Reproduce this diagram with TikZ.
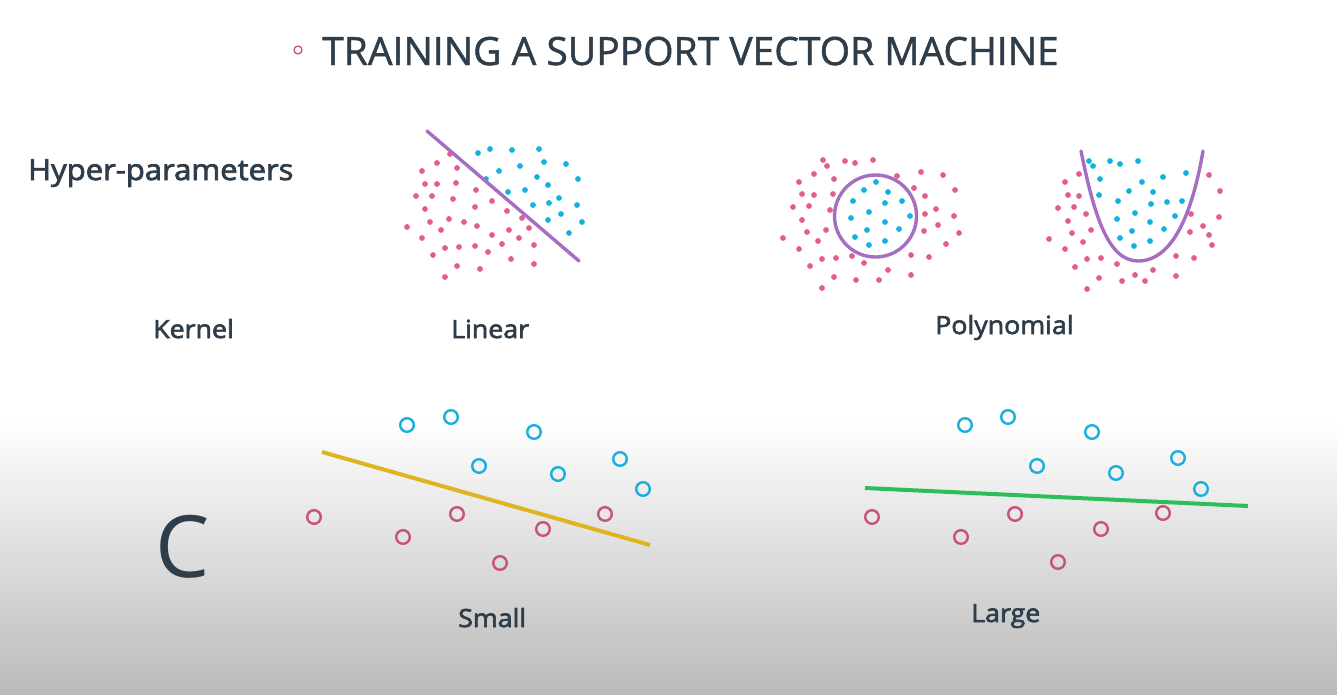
\documentclass[tikz,border=0pt]{standalone}
\usepackage{fontspec}
\setmainfont{Open Sans}
\newfontfamily\lblfont[FakeBold=2.5,FakeStretch=1.07]{Open Sans}
\newfontfamily\ttlfont[FakeBold=1.2]{Open Sans}
\definecolor{txt}{HTML}{2E3D49}
\definecolor{pinkdot}{HTML}{E35D8F}
\definecolor{bluedot}{HTML}{12B2E0}
\definecolor{purp}{HTML}{A56EC2}
\definecolor{pinkring}{HTML}{C9517F}
\definecolor{bluering}{HTML}{1AAFDC}
\definecolor{yel}{HTML}{DDB51E}
\definecolor{grn}{HTML}{2DBE5B}
\begin{document}
\begin{tikzpicture}[x=1pt,y=-1pt,
  pd/.style={fill=pinkdot},
  bd/.style={fill=bluedot},
  sep/.style={draw=purp,line width=3.4pt,line cap=round},
  pr/.style={draw=pinkring,line width=2.4pt},
  br/.style={draw=bluering,line width=2.4pt},
  lbl/.style={anchor=base west,inner sep=0pt,text=txt,font=\lblfont\fontsize{25}{29}\selectfont}]
\useasboundingbox (0,0) rectangle (1337,694);
\fill[white] (0,0) rectangle (1337,430);
\shade[top color=white,bottom color=black!27] (0,420) rectangle (1337,694);
% title
\draw[pinkring,line width=1.3pt] (298,50) circle (4);
\node[anchor=base west,inner sep=0pt,text=txt,font=\ttlfont\fontsize{39}{45}\selectfont] (title) at (322,65) {TRAINING A SUPPORT VECTOR MACHINE};
\node[anchor=base west,inner sep=0pt,text=txt,font=\lblfont\fontsize{29}{33}\selectfont] (hyper) at (28,180) {Hyper-parameters};
\node[lbl] (kernel) at (153,338) {Kernel};
\node[lbl] (linear) at (451,338) {Linear};
\node[lbl] (poly) at (935,334) {Polynomial};
\node[lbl] (small) at (458,627) {Small};
\node[lbl] (large) at (971,622) {Large};
\node[anchor=base west,inner sep=0pt,text=txt,font=\fontsize{86}{90}\selectfont] (c) at (155,577) {C};
% linear plot
\foreach \x/\y in {450/154,437/163,422/171,457/168,425/184,437/184,456/183,476/190,416/196,432/196,453/199,492/201,425/209,475/207,507/211,430/222,449/219,464/222,477/226,522/218,529/228,407/227,441/230,422/238,492/235,509/230,519/238,445/248,459/247,475/246,502/244,534/245,433/255,488/252,457/266,480/269,511/259,534/264,445/277}
  \fill[pd] (\x,\y) circle (2.9);
\foreach \x/\y in {478/153,490/149,512/150,539/149,544/162,566/164,499/171,520/166,537/177,578/179,486/179,548/185,508/192,525/190,559/198,533/205,549/203,577/205,561/214,548/220,582/222,569/233}
  \fill[bd] (\x,\y) circle (2.9);
\draw[sep] (427,131) -- (579,261);
% circle plot
\foreach \x/\y in {823/160,827/166,845/161,855/163,873/160,814/174,834/179,799/182,897/176,921/172,943/175,802/194,814/195,833/194,914/188,955/190,925/196,793/207,809/206,830/210,936/209,925/214,954/216,802/220,938/225,807/232,826/230,924/231,959/233,783/238,818/241,799/249,946/244,822/259,836/258,852/256,911/255,929/257,810/266,864/263,888/270,834/277,856/280,879/280,911/275,822/288}
  \fill[pd] (\x,\y) circle (2.9);
\foreach \x/\y in {876/182,864/190,888/192,853/201,885/203,902/201,869/212,851/218,885/222,910/216,867/230,899/229,855/237,869/245,885/241}
  \fill[bd] (\x,\y) circle (2.9);
\draw[sep] (875.5,216) circle (41);
% parabola plot
\foreach \x/\y in {1079/174,1065/182,1068/195,1079/196,1058/208,1074/207,1086/214,1068/221,1091/230,1072/233,1049/239,1083/242,1065/249,1087/259,1101/258,1075/267,1117/264,1099/278,1122/281,1135/275,1145/281,1153/270,1176/276,1087/289,1176/256,1194/258,1191/214,1190/232,1203/226,1209/235,1212/245,1219/217,1220/191,1209/175}
  \fill[pd] (\x,\y) circle (2.9);
\foreach \x/\y in {1089/161,1093/166,1110/161,1120/164,1138/161,1100/179,1099/195,1163/177,1186/173,1142/182,1129/191,1153/192,1118/201,1151/204,1167/202,1182/201,1135/213,1117/219,1175/216,1150/222,1132/231,1164/229,1120/238,1150/241,1134/246}
  \fill[bd] (\x,\y) circle (2.9);
\draw[sep] (1081,151) .. controls (1094,215) and (1108,261) .. (1138,261) .. controls (1172,261) and (1192,215) .. (1203,151);
% C small
\foreach \x/\y in {407/425,451/417,534/432,479/466,558/474,620/459,643/489}
  \draw[br] (\x,\y) circle (6.8);
\foreach \x/\y in {314/517,403/537,457/514,543/529,605/514,500/563}
  \draw[pr] (\x,\y) circle (6.8);
\draw[yel,line width=4pt] (322,452) -- (650,545);
% C large
\foreach \x/\y in {965/425,1008/417,1092/432,1037/466,1116/473,1178/458,1201/489}
  \draw[br] (\x,\y) circle (6.8);
\foreach \x/\y in {872/517,961/537,1015/514,1101/529,1163/513,1058/562}
  \draw[pr] (\x,\y) circle (6.8);
\draw[grn,line width=4pt] (865,488) -- (1248,506);
\end{tikzpicture}
\end{document}
